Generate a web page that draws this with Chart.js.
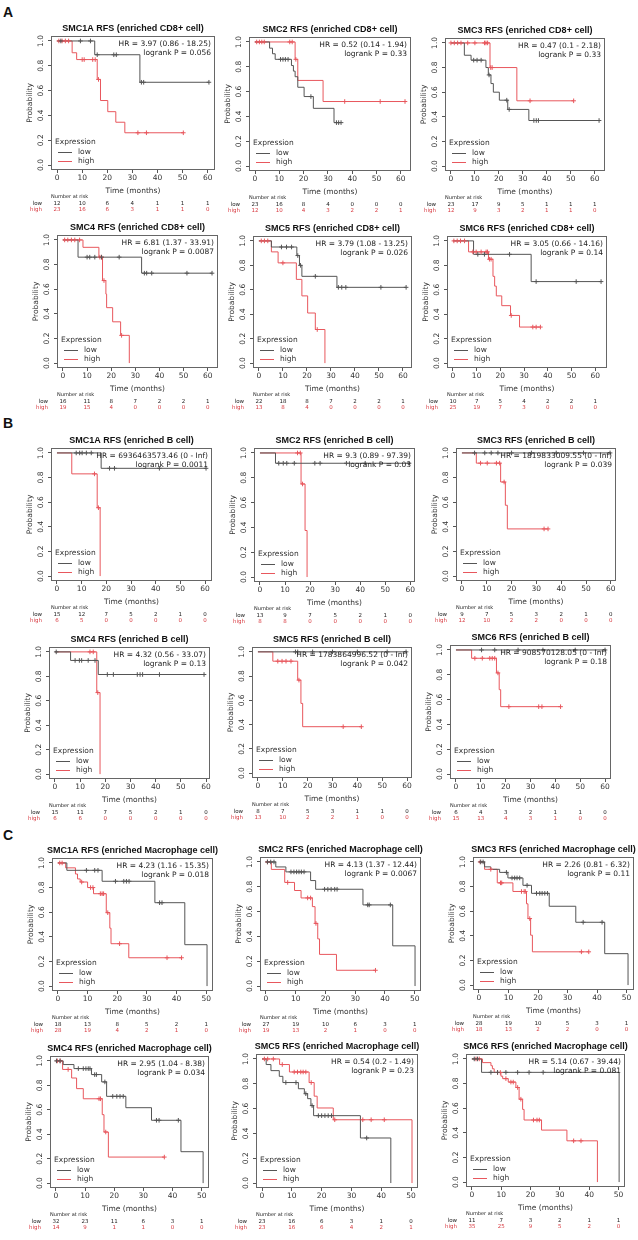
<!DOCTYPE html>
<html>
<head>
<meta charset="utf-8">
<title>SMC RFS Kaplan-Meier curves</title>
<script src="https://cdn.jsdelivr.net/npm/chart.js@4.4.1/dist/chart.umd.min.js"></script>
<style>
  html, body { margin: 0; padding: 0; background: #fff; }
  #page { position: relative; width: 638px; height: 1240px; overflow: hidden; }
  #page canvas { position: absolute; }
  .tag { position: absolute; left: 3px; font: bold 14px "Liberation Sans", Arial, sans-serif; line-height: 14px; color: #111; }
</style>
</head>
<body>
<div id="page">
  <div class="tag" style="top:5px">A</div>
  <div class="tag" style="top:416px">B</div>
  <div class="tag" style="top:828px">C</div>
</div>
<script>
// ---- labels ----
const GENES = ['SMC1A', 'SMC2', 'SMC3', 'SMC4', 'SMC5', 'SMC6'];
const CELLS = ['CD8+', 'B', 'Macrophage'];
const TICKS_X60 = [0, 10, 20, 30, 40, 50, 60];
const TICKS_X50 = [0, 10, 20, 30, 40, 50];
const TICKS_Y = [0, 0.2, 0.4, 0.6, 0.8, 1];

const HR_A = ['HR = 3.97 (0.86 - 18.25)', 'HR = 0.52 (0.14 - 1.94)', 'HR = 0.47 (0.1 - 2.18)',
              'HR = 6.81 (1.37 - 33.91)', 'HR = 3.79 (1.08 - 13.25)', 'HR = 3.05 (0.66 - 14.16)'];
const P_A  = ['logrank P = 0.056', 'logrank P = 0.33', 'logrank P = 0.33',
              'logrank P = 0.0087', 'logrank P = 0.026', 'logrank P = 0.14'];
const HR_B = ['HR = 6936463573.46 (0 - Inf)', 'HR = 9.3 (0.89 - 97.39)', 'HR = 1819833009.55 (0 - Inf)',
              'HR = 4.32 (0.56 - 33.07)', 'HR = 1783864996.52 (0 - Inf)', 'HR = 908570128.05 (0 - Inf)'];
const P_B  = ['logrank P = 0.0011', 'logrank P = 0.03', 'logrank P = 0.039',
              'logrank P = 0.13', 'logrank P = 0.042', 'logrank P = 0.18'];
const HR_C = ['HR = 4.23 (1.16 - 15.35)', 'HR = 4.13 (1.37 - 12.44)', 'HR = 2.26 (0.81 - 6.32)',
              'HR = 2.95 (1.04 - 8.38)', 'HR = 0.54 (0.2 - 1.49)', 'HR = 5.14 (0.67 - 39.44)'];
const P_C  = ['logrank P = 0.018', 'logrank P = 0.0067', 'logrank P = 0.11',
              'logrank P = 0.034', 'logrank P = 0.23', 'logrank P = 0.081'];

// ---- survival steps [time, survival after event] and censor times ----
// A: enriched CD8+ cell
const a1LowS  = [[0,1],[15,0.889],[33,0.667],[60.5,0.667]];
const a1LowC  = [1.5, 9.3, 13.3, 16, 22.6, 23.6, 33.6, 34.5, 60.5];
const a1HighS = [[0,1],[6,0.905],[7.8,0.85],[16,0.69],[17.3,0.52],[20.2,0.43],[23.4,0.345],[27,0.26],[50.3,0.26]];
const a1HighC = [0.7, 2, 3.3, 4.6, 10, 10.8, 14.2, 15.2, 16.5, 32.2, 35.6, 50.3];
const a1Risk  = [[12,10,6,4,1,1,1],[23,16,6,3,1,1,0]];

const a2LowS  = [[0,1],[6,0.95],[7.2,0.905],[8.3,0.86],[15,0.81],[15.8,0.765],[16.5,0.72],[17.6,0.635],[20.2,0.56],[24,0.465],[32.5,0.35],[35.4,0.35]];
const a2LowC  = [10.5, 11.5, 12.5, 13.6, 23, 33.5, 34.4, 35.4];
const a2HighS = [[0,1],[16.5,0.86],[17.6,0.69],[28,0.52],[61.7,0.52]];
const a2HighC = [0.7, 1.8, 2.8, 3.8, 14.3, 15.3, 16.8, 36.9, 51.5, 61.7];
const a2Risk  = [[23,16,8,4,0,0,0],[12,10,4,3,2,2,1]];

const a3LowS  = [[0,1],[5.6,0.9],[8.4,0.86],[14.6,0.8],[15.6,0.74],[16.7,0.67],[17.7,0.6],[20.2,0.535],[23.7,0.46],[32.5,0.37],[61.8,0.37]];
const a3LowC  = [9.5, 10.9, 12.6, 15.9, 23.3, 24.3, 34.6, 35.6, 36.5, 61.8];
const a3HighS = [[0,1],[16.3,0.8],[27.5,0.53],[51.2,0.53]];
const a3HighC = [0, 1.4, 2.8, 4.2, 7, 10, 14, 14.6, 15.3, 16.6, 17.2, 33, 51.2];
const a3Risk  = [[23,17,9,5,1,1,1],[12,9,3,2,1,1,0]];

const a4LowS  = [[0,1],[6.25,0.86],[32.6,0.73],[61.8,0.73]];
const a4LowC  = [10, 11.1, 13.2, 16, 23.3, 33.75, 34.7, 36.8, 51.4, 61.8];
const a4HighS = [[0,1],[8.3,0.94],[14.9,0.86],[16.4,0.67],[17.8,0.56],[18.1,0.45],[20.6,0.335],[23.9,0.225],[27.5,0]];
const a4HighC = [0.7, 2, 3.5, 4.9, 6.9, 15.3, 16, 17, 24.3];
const a4Risk  = [[16,11,8,7,2,2,1],[19,15,4,0,0,0,0]];

const a5LowS  = [[0,1],[5.2,0.95],[15.8,0.88],[16.9,0.8],[17.9,0.71],[32.5,0.62],[61.3,0.62]];
const a5LowC  = [9.4, 11.5, 13.6, 16.2, 17.3, 23.5, 33.1, 34.5, 36.2, 50.8, 61.3];
const a5HighS = [[0,1],[5.2,0.91],[8,0.82],[15.6,0.685],[17.9,0.55],[20.3,0.41],[23.5,0.275],[27.5,0]];
const a5HighC = [1, 2.3, 3.7, 10, 24.3];
const a5Risk  = [[22,18,8,7,2,2,1],[13,8,4,0,0,0,0]];

const a6LowS  = [[0,1],[8.7,0.89],[33,0.667],[62.5,0.667]];
const a6LowC  = [10.5, 13.3, 23.9, 35.1, 52, 62.5];
const a6HighS = [[0,1],[6.6,0.91],[15,0.85],[16.9,0.71],[17.6,0.63],[18.3,0.55],[20.6,0.47],[24.3,0.39],[28.1,0.295],[36.9,0.295]];
const a6HighC = [0.4, 1.8, 3.2, 4.9, 8.4, 9.8, 11.9, 14, 14.6, 15.4, 16.1, 24.6, 33.7, 35.1, 36.9];
const a6Risk  = [[10,7,5,4,2,2,1],[25,19,7,3,0,0,0]];

// B: enriched B cell
const b1LowS  = [[0,1],[17.9,0.875],[60.4,0.875]];
const b1LowC  = [7.8, 9.2, 10.2, 11.9, 13.9, 21.3, 23.3, 41.5, 60.4];
const b1HighS = [[0,1],[6,0.83],[16.3,0.555],[17.5,0]];
const b1HighC = [15.2, 16.8];
const b1Risk  = [[15,12,7,5,2,1,0],[6,5,0,0,0,0,0]];

const b2LowS  = [[0,1],[6.2,0.917],[59.5,0.917]];
const b2LowC  = [7.5, 9.3, 10.7, 13.7, 21.9, 24, 34.5, 42, 59.5];
const b2HighS = [[0,1],[16.4,0.75],[18,0.375],[18.8,0]];
const b2HighC = [15, 16.1, 17];
const b2Risk  = [[13,9,7,5,2,1,0],[8,8,0,0,0,0,0]];

const b3LowS  = [[0,1],[59.7,1]];
const b3LowC  = [5.1, 9.2, 11.8, 14.5, 20, 28, 38, 49, 59.7];
const b3HighS = [[0,1],[5.8,0.917],[15.6,0.764],[17.5,0.575],[18.3,0.383],[34.7,0.383]];
const b3HighC = [7.5, 10.2, 13.9, 15.2, 17, 33.1, 34.7];
const b3Risk  = [[9,7,5,3,2,1,0],[12,10,2,2,0,0,0]];

const b4LowS  = [[0,1],[6.2,0.93],[17.2,0.815],[59.2,0.815]];
const b4LowC  = [0.5, 8, 9.7, 10.6, 13.2, 15.9, 20.8, 23.2, 32.7, 33.8, 34.8, 41.5, 59.2];
const b4HighS = [[0,1],[16.6,0.667],[17.9,0]];
const b4HighC = [13.9, 15.2, 17];
const b4Risk  = [[15,11,7,5,2,1,0],[6,6,0,0,0,0,0]];

const b5LowS  = [[0,1],[59.6,1]];
const b5LowC  = [15.1, 16, 22, 30, 40, 52, 59.6];
const b5HighS = [[0,1],[6,0.923],[16,0.767],[17.3,0.575],[18,0.383],[41.6,0.383]];
const b5HighC = [8, 9.7, 11.3, 13.3, 16.5, 34.3, 41.6];
const b5Risk  = [[8,7,5,3,1,1,0],[13,10,2,2,1,0,0]];

const b6LowS  = [[0,1],[60,1]];
const b6LowC  = [10.3, 15.6, 25, 35, 48, 60];
const b6HighS = [[0,1],[6.3,0.933],[16.3,0.815],[17.4,0.68],[18,0.543],[42.1,0.543]];
const b6HighC = [7.6, 10.6, 13.6, 14.6, 15.6, 16.9, 21.3, 33.3, 34.6, 42.1];
const b6Risk  = [[6,4,3,2,1,1,0],[15,13,4,3,1,0,0]];

// C: enriched Macrophage cell
const c1LowS  = [[0,1],[3,0.94],[14.9,0.851],[32.7,0.677],[42.8,0.336],[50.3,0]];
const c1LowC  = [9.6, 12.4, 13.5, 19.4, 22.2, 23.1, 24, 34.3, 35.1];
const c1HighS = [[0,1],[2.6,0.96],[5.9,0.91],[6.6,0.87],[7.5,0.845],[10,0.8],[12,0.75],[16.3,0.596],[17.5,0.47],[17.9,0.344],[23.9,0.23],[41.7,0.23]];
const c1HighC = [0.6, 1.4, 8, 11, 11.8, 14.3, 14.9, 15.4, 16.8, 20.8, 36.8, 41.7];
const c1Risk  = [[18,13,8,5,2,1],[28,19,4,2,1,0]];

const c2LowS  = [[0,1],[3.3,0.96],[6.7,0.92],[15,0.85],[16.7,0.78],[32.6,0.654],[42.6,0.324],[50.1,0]];
const c2LowC  = [0.5, 1.6, 2.7, 8.4, 9.4, 10.3, 11.1, 11.9, 12.8, 19.7, 20.8, 21.9, 23.1, 23.9, 34.2, 34.7, 41.8];
const c2HighS = [[0,1],[1.8,0.94],[6.3,0.835],[9.6,0.77],[11.8,0.71],[15.6,0.64],[16.5,0.505],[17.4,0.38],[18,0.255],[23.7,0.127],[36.8,0.127]];
const c2HighC = [0.5, 7.3, 14, 15, 16.8, 36.8];
const c2Risk  = [[27,19,10,6,3,1],[19,13,2,1,0,0]];

const c3LowS  = [[0,1],[1.9,0.96],[4,0.94],[7,0.915],[9.8,0.87],[14.9,0.81],[17.8,0.745],[23.8,0.64],[32.8,0.51],[42.6,0.255],[50.5,0]];
const c3LowC  = [0.6, 1.4, 9.3, 11.2, 12.1, 12.9, 13.8, 16.3, 19.5, 20.6, 21.4, 22.3, 23.2, 35.3, 41.7];
const c3HighS = [[0,1],[1.9,0.94],[6.2,0.83],[11.5,0.76],[16.1,0.66],[16.6,0.54],[17.5,0.405],[18.1,0.27],[37.2,0.27]];
const c3HighC = [0.4, 4, 7.3, 7.7, 14.4, 15.3, 15.7, 17.2, 34.7, 37.2];
const c3Risk  = [[28,19,10,5,3,1],[18,13,2,2,0,0]];

const c4LowS  = [[0,1],[2.5,0.97],[6.2,0.937],[12.2,0.888],[15.7,0.828],[17.4,0.71],[24,0.617],[32.8,0.514],[42.9,0.257],[50.5,0]];
const c4LowC  = [0.2, 1.4, 7.7, 9.4, 10.3, 11.1, 11.7, 13.3, 13.9, 16.8, 19.5, 20.9, 22, 23.1, 34.5, 35.4, 42];
const c4HighS = [[0,1],[2.3,0.93],[5.4,0.86],[7.1,0.773],[9.4,0.69],[15.9,0.56],[16.5,0.418],[18,0.213],[37.2,0.213]];
const c4HighC = [0.5, 1.5, 4.2, 14.8, 15.3, 17.1, 37.2];
const c4Risk  = [[32,23,11,6,3,1],[14,9,1,1,0,0]];

const c5LowS  = [[0,1],[1.4,0.955],[3,0.906],[5.8,0.86],[7,0.81],[12.2,0.76],[14.2,0.72],[15.3,0.68],[16.4,0.624],[17.3,0.543],[33,0.363],[43.2,0]];
const c5LowC  = [8, 11.4, 14.7, 16.8, 18.9, 20, 21.1, 22.2, 23.3, 35.1];
const c5HighS = [[0,1],[5.9,0.955],[9.2,0.895],[15.8,0.81],[17.5,0.7],[18.5,0.605],[23.9,0.51],[50.3,0]];
const c5HighC = [0.8, 1.9, 3.8, 6.8, 10.8, 11.9, 13, 13.8, 14.7, 16.5, 24.4, 33.8, 36.6, 41];
const c5Risk  = [[23,16,6,3,1,0],[23,16,6,4,2,1]];

const c6LowS  = [[0,1],[3.3,0.891],[50.2,0]];
const c6LowC  = [0.8, 1.9, 6.5, 8.75, 11.6, 15.6, 19.5, 24.3];
const c6HighS = [[0,1],[3.6,0.97],[6.5,0.945],[7,0.92],[7.6,0.89],[9.9,0.86],[10.5,0.84],[12.4,0.812],[15,0.768],[16.1,0.673],[17.3,0.59],[17.8,0.504],[23.75,0.422],[32.4,0.335],[42.8,0]];
const c6HighC = [1.4, 2.5, 8.75, 9.7, 11.6, 13.3, 14.1, 15.6, 16.7, 21, 22.2, 23, 34.7, 37.2];
const c6Risk  = [[11,7,3,2,1,1],[35,25,9,5,2,0]];

// ---- layout: plot box [left, top, right, bottom] on the page ----
const BOXES = [
  [51, 36, 215, 170], [249, 37, 411, 171], [445, 38, 605, 171],
  [57, 235, 218, 368], [253, 236, 412, 368], [447, 236, 607, 368],
  [51, 448, 212, 581], [254, 448, 415, 582], [456, 448, 616, 581],
  [49, 647, 210, 779], [252, 647, 412, 778], [450, 645, 611, 779],
  [52, 858, 213, 991], [260, 857, 421, 991], [473, 857, 634, 990],
  [50, 1056, 209, 1188], [256, 1054, 418, 1188], [466, 1054, 625, 1187]
];

const LOW_COL = '#555555';
const HIGH_COL = '#e8575d';
const TXT = '#333333';
const SANS = '"DejaVu Sans", sans-serif';
const PAD_L = 32, PAD_T = 20, PAD_R = 12, PAD_B = 46, X_AXIS_H = 26;

function survAt(steps, t) {
  let s = 1;
  for (const [tt, ss] of steps) {
    if (tt <= t) s = ss; else break;
  }
  return s;
}
const stepPts = steps => steps.map(([x, y]) => ({x, y}));
const censPts = (steps, times) => times.map(t => ({x: t, y: survAt(steps, t)}));

function drawDecor(chart, spec) {
  const ctx = chart.ctx;
  const {left, top, right, bottom} = chart.chartArea;
  ctx.save();

  // frame
  ctx.strokeStyle = '#666';
  ctx.lineWidth = 1;
  ctx.strokeRect(left + 0.5, top + 0.5, right - left - 1, bottom - top - 1);

  // title
  ctx.fillStyle = '#111';
  ctx.font = 'bold 9px "Liberation Sans", Arial, sans-serif';
  ctx.textAlign = 'center';
  ctx.textBaseline = 'middle';
  ctx.fillText(spec.title, (left + right) / 2, top - 7);

  // HR / logrank
  ctx.fillStyle = '#222';
  ctx.font = '7.5px ' + SANS;
  ctx.textAlign = 'right';
  ctx.fillText(spec.hr, right - 4, top + 8);
  ctx.fillText(spec.p, right - 4, top + 17);

  // legend
  ctx.textAlign = 'left';
  ctx.fillStyle = TXT;
  ctx.fillText('Expression', left + 4, bottom - 28);
  [['low', LOW_COL, bottom - 17.5], ['high', HIGH_COL, bottom - 8.5]].forEach(([lab, col, y]) => {
    ctx.strokeStyle = col;
    ctx.beginPath();
    ctx.moveTo(left + 7, y);
    ctx.lineTo(left + 21, y);
    ctx.stroke();
    ctx.fillStyle = TXT;
    ctx.fillText(lab, left + 27, y);
  });

  // number at risk
  ctx.font = '5px ' + SANS;
  ctx.fillStyle = '#222';
  ctx.fillText('Number at risk', left, bottom + 27);
  ctx.font = '5.5px ' + SANS;
  const xs = chart.scales.x;
  [[spec.risk[0], '#222', bottom + 34, 'low'], [spec.risk[1], '#d83a40', bottom + 40, 'high']].forEach(([row, col, y, lab]) => {
    ctx.fillStyle = col;
    ctx.textAlign = 'right';
    ctx.fillText(lab, left - 9, y);
    ctx.textAlign = 'center';
    row.forEach((n, i) => ctx.fillText(String(n), xs.getPixelForValue(spec.xTicks[i]), y));
  });
  ctx.restore();
}

function makePlot(spec, box) {
  const page = document.getElementById('page');
  const [bl, bt, br, bb] = box;
  const W = (br - bl) + PAD_L + PAD_R;
  const H = (bb - bt) + PAD_T + PAD_B;
  const cv = document.createElement('canvas');
  cv.width = W; cv.height = H;
  cv.style.width = W + 'px'; cv.style.height = H + 'px';
  cv.style.left = (bl - PAD_L) + 'px';
  cv.style.top = (bt - PAD_T) + 'px';
  page.appendChild(cv);

  const tmax = Math.max(spec.lowS[spec.lowS.length - 1][0], spec.highS[spec.highS.length - 1][0]);
  const tickFont = {family: SANS, size: 7.5};
  const grid = {drawOnChartArea: false, drawTicks: true, tickLength: 3, color: '#555', lineWidth: 1};

  new Chart(cv, {
    type: 'line',
    data: {
      datasets: [
        {data: censPts(spec.lowS, spec.lowC), showLine: false, pointStyle: 'cross', pointRadius: 2.3, borderColor: LOW_COL, borderWidth: 1},
        {data: censPts(spec.highS, spec.highC), showLine: false, pointStyle: 'cross', pointRadius: 2.3, borderColor: HIGH_COL, borderWidth: 1},
        {data: stepPts(spec.lowS), stepped: true, borderColor: LOW_COL, borderWidth: 1, pointRadius: 0, fill: false},
        {data: stepPts(spec.highS), stepped: true, borderColor: HIGH_COL, borderWidth: 1, pointRadius: 0, fill: false}
      ]
    },
    options: {
      responsive: false,
      devicePixelRatio: 1,
      animation: false,
      layout: {autoPadding: false, padding: {left: 0, top: PAD_T, right: PAD_R, bottom: PAD_B - X_AXIS_H}},
      plugins: {legend: {display: false}, tooltip: {enabled: false}},
      scales: {
        x: {
          type: 'linear', min: -0.04 * tmax, max: 1.04 * tmax,
          afterBuildTicks: s => { s.ticks = spec.xTicks.map(v => ({value: v})); },
          afterFit: s => { s.height = X_AXIS_H; },
          grid, border: {display: false},
          ticks: {font: tickFont, color: TXT, padding: 1, maxRotation: 0, autoSkip: false, callback: v => String(v)},
          title: {display: true, text: 'Time (months)', font: tickFont, color: TXT, padding: {top: 0, bottom: 0}}
        },
        y: {
          type: 'linear', min: -0.04, max: 1.04,
          afterBuildTicks: s => { s.ticks = TICKS_Y.map(v => ({value: v})); },
          afterFit: s => { s.width = PAD_L; },
          grid, border: {display: false},
          ticks: {font: tickFont, color: TXT, padding: 1, minRotation: 90, maxRotation: 90, crossAlign: 'center', autoSkip: false, callback: v => v.toFixed(1)},
          title: {display: true, text: 'Probability', font: tickFont, color: TXT, padding: {top: 6.5, bottom: 0}}
        }
      }
    },
    plugins: [{id: 'kmDecor', afterDraw: chart => drawDecor(chart, spec)}]
  });
}

const CURVES = [
  [a1LowS, a1LowC, a1HighS, a1HighC, a1Risk], [a2LowS, a2LowC, a2HighS, a2HighC, a2Risk],
  [a3LowS, a3LowC, a3HighS, a3HighC, a3Risk], [a4LowS, a4LowC, a4HighS, a4HighC, a4Risk],
  [a5LowS, a5LowC, a5HighS, a5HighC, a5Risk], [a6LowS, a6LowC, a6HighS, a6HighC, a6Risk],
  [b1LowS, b1LowC, b1HighS, b1HighC, b1Risk], [b2LowS, b2LowC, b2HighS, b2HighC, b2Risk],
  [b3LowS, b3LowC, b3HighS, b3HighC, b3Risk], [b4LowS, b4LowC, b4HighS, b4HighC, b4Risk],
  [b5LowS, b5LowC, b5HighS, b5HighC, b5Risk], [b6LowS, b6LowC, b6HighS, b6HighC, b6Risk],
  [c1LowS, c1LowC, c1HighS, c1HighC, c1Risk], [c2LowS, c2LowC, c2HighS, c2HighC, c2Risk],
  [c3LowS, c3LowC, c3HighS, c3HighC, c3Risk], [c4LowS, c4LowC, c4HighS, c4HighC, c4Risk],
  [c5LowS, c5LowC, c5HighS, c5HighC, c5Risk], [c6LowS, c6LowC, c6HighS, c6HighC, c6Risk]
];
const HRS = [HR_A, HR_B, HR_C];
const PS = [P_A, P_B, P_C];

CURVES.forEach((c, i) => {
  const panel = Math.floor(i / 6), k = i % 6;
  makePlot({
    title: GENES[k] + ' RFS (enriched ' + CELLS[panel] + ' cell)',
    hr: HRS[panel][k], p: PS[panel][k],
    lowS: c[0], lowC: c[1], highS: c[2], highC: c[3], risk: c[4],
    xTicks: panel === 2 ? TICKS_X50 : TICKS_X60
  }, BOXES[i]);
});
</script>
</body>
</html>
